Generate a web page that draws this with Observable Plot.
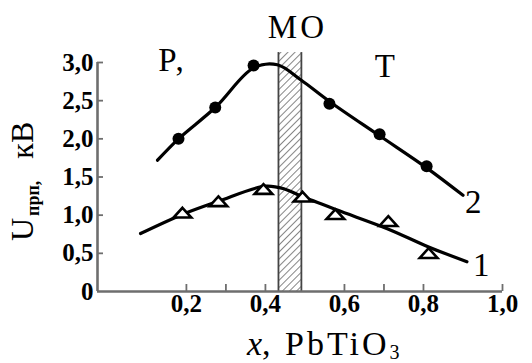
<!DOCTYPE html>
<html>
<head>
<meta charset="utf-8">
<script src="https://cdn.jsdelivr.net/npm/d3@7"></script>
<script src="https://cdn.jsdelivr.net/npm/@observablehq/plot@0.6"></script>
<style>
  html, body { margin: 0; padding: 0; background: #fff; }
  svg text, svg tspan { font-family: "Liberation Serif", serif !important; }
</style>
</head>
<body>
<div id="chart"></div>
<script>
// ---- data ----
// measured points, curve 2 (filled circles)
const pts2X = [0.18, 0.273, 0.37, 0.562, 0.689, 0.808];
const pts2Y = [2.00, 2.41, 2.96, 2.46, 2.06, 1.64];
// measured points, curve 1 (open triangles)
const pts1X = [0.19, 0.281, 0.395, 0.494, 0.577, 0.711, 0.813];
const pts1Y = [1.02, 1.17, 1.33, 1.23, 1.00, 0.91, 0.49];
// hand-drawn fitted curves (vertices)
const line2X = [0.127, 0.18, 0.273, 0.37, 0.43, 0.49, 0.562, 0.689, 0.808, 0.90];
const line2Y = [1.72, 2.00, 2.41, 2.93, 2.97, 2.77, 2.49, 2.04, 1.62, 1.26];
const line1X = [0.084, 0.19, 0.28, 0.40, 0.45, 0.49, 0.58, 0.71, 0.81, 0.91];
const line1Y = [0.76, 1.01, 1.18, 1.38, 1.34, 1.25, 1.07, 0.82, 0.59, 0.39];
// morphotropic region
const moRegion = [0.433, 0.491];
const moTop = 3.13;
// axes
const xDomain = [-0.025, 1.0];
const yDomain = [0, 3.0];
const xTickMarks = [0.2, 0.3, 0.4, 0.6, 0.7, 0.8, 1.0];
const xTickLabels = [0.2, 0.4, 0.6, 0.8, 1.0];
const yTicks = [0, 0.5, 1.0, 1.5, 2.0, 2.5, 3.0];
// annotations (text, x, y in data units)
const annText = ["Р,", "МО", "Т", "2", "1"];
const annX = [0.165, 0.481, 0.706, 0.93, 0.95];
const annY = [3.03, 3.46, 2.95, 1.17, 0.34];

const fmt = d => d === 0 ? "0" : d.toFixed(1).replace(".", ",");
const toRows = (xs, ys) => xs.map((x, i) => ({x, y: ys[i]}));
const ann = annText.map((t, i) => ({t, x: annX[i], y: annY[i]}));

const axisColor = "#6e6e6e";

// flat open triangle symbol
const flatTriangle = {
  draw(context, size) {
    const w = Math.sqrt(size) * 1.25, h = w * 0.55;
    context.moveTo(0, -h * 0.6);
    context.lineTo(w / 2, h * 0.4);
    context.lineTo(-w / 2, h * 0.4);
    context.closePath();
  }
};

const plot = Plot.plot({
  width: 532,
  height: 363,
  marginLeft: 97,
  marginRight: 30,
  marginTop: 62,
  marginBottom: 72,
  style: {fontSize: "25px", fontWeight: "bold", color: "#000", background: "#fff"},
  x: {domain: xDomain, label: null},
  y: {domain: yDomain, label: null},
  marks: [
    // hatched MO band
    Plot.rectX([{x1: moRegion[0], x2: moRegion[1]}], {x1: "x1", x2: "x2", y1: 0, y2: moTop, fill: "url(#hatch)"}),
    Plot.ruleX(moRegion, {x: d => d, y1: 0, y2: moTop, stroke: "#444", strokeWidth: 1.8}),
    // axes lines
    Plot.ruleX([xDomain[0]], {stroke: axisColor, strokeWidth: 2.6}),
    Plot.ruleY([0], {stroke: axisColor, strokeWidth: 2.6}),
    // tick marks (inward)
    Plot.axisX(xTickMarks, {tickSize: -7, tickFormat: () => "", label: null, stroke: axisColor, strokeWidth: 1.8}),
    Plot.axisY(yTicks.filter(d => d > 0), {tickSize: -6, tickFormat: () => "", label: null, stroke: axisColor, strokeWidth: 1.8}),
    // tick labels
    Plot.axisX(xTickLabels, {tickSize: 0, tickPadding: 3, tickFormat: fmt, label: null, fill: "#000"}),
    Plot.axisY(yTicks, {tickSize: 0, tickPadding: 4, tickFormat: fmt, label: null, fill: "#000"}),
    // curves
    Plot.line(toRows(line2X, line2Y), {x: "x", y: "y", curve: "catmull-rom", stroke: "#000", strokeWidth: 3.2}),
    Plot.line(toRows(line1X, line1Y), {x: "x", y: "y", curve: "catmull-rom", stroke: "#000", strokeWidth: 3.2}),
    Plot.dot(toRows(pts2X, pts2Y), {x: "x", y: "y", r: 6, fill: "#000", stroke: "none"}),
    Plot.dot(toRows(pts1X, pts1Y), {x: "x", y: "y", symbol: flatTriangle, r: 8, fill: "#fff", stroke: "#000", strokeWidth: 2.6}),
    // annotations
    Plot.text(ann, {x: "x", y: "y", text: "t", fontSize: 33, fontWeight: "normal", fill: "#000"})
  ]
});

// hatch pattern
const svg = d3.select(plot);
const defs = svg.insert("defs", ":first-child");
const pat = defs.append("pattern")
  .attr("id", "hatch").attr("patternUnits", "userSpaceOnUse")
  .attr("width", 5).attr("height", 5)
  .attr("patternTransform", "rotate(45)");
pat.append("rect").attr("width", 5).attr("height", 5).attr("fill", "#fff");
pat.append("line").attr("x1", 0).attr("y1", 0).attr("x2", 0).attr("y2", 5)
  .attr("stroke", "#444").attr("stroke-width", 1.3);

// y-axis label: U_прп, кВ
const yl = svg.append("text")
  .attr("transform", "translate(33,241) rotate(-90)")
  .attr("text-anchor", "start")
  .style("font-size", "32px").style("font-weight", "normal")
  .attr("fill", "#000");
yl.append("tspan").text("U");
yl.append("tspan").style("font-size", "18px").style("font-weight", "bold").attr("dx", 2).attr("dy", 6).text("прп,");
yl.append("tspan").attr("dx", 22).attr("dy", -6).text("кВ");

// x-axis label: x, PbTiO3
const xl = svg.append("text")
  .attr("x", 247).attr("y", 355)
  .attr("text-anchor", "start")
  .style("font-size", "34px").style("font-weight", "normal")
  .attr("fill", "#000");
xl.append("tspan").style("font-style", "italic").text("x");
xl.append("tspan").style("letter-spacing", "3px").text(", PbTiO");
xl.append("tspan").style("font-size", "20px").attr("dy", 4).text("3");

svg.selectAll("text").filter(function() { return this.closest("[aria-label='text']"); })
  .style("letter-spacing", "3px");

document.getElementById("chart").appendChild(plot);
</script>
</body>
</html>
